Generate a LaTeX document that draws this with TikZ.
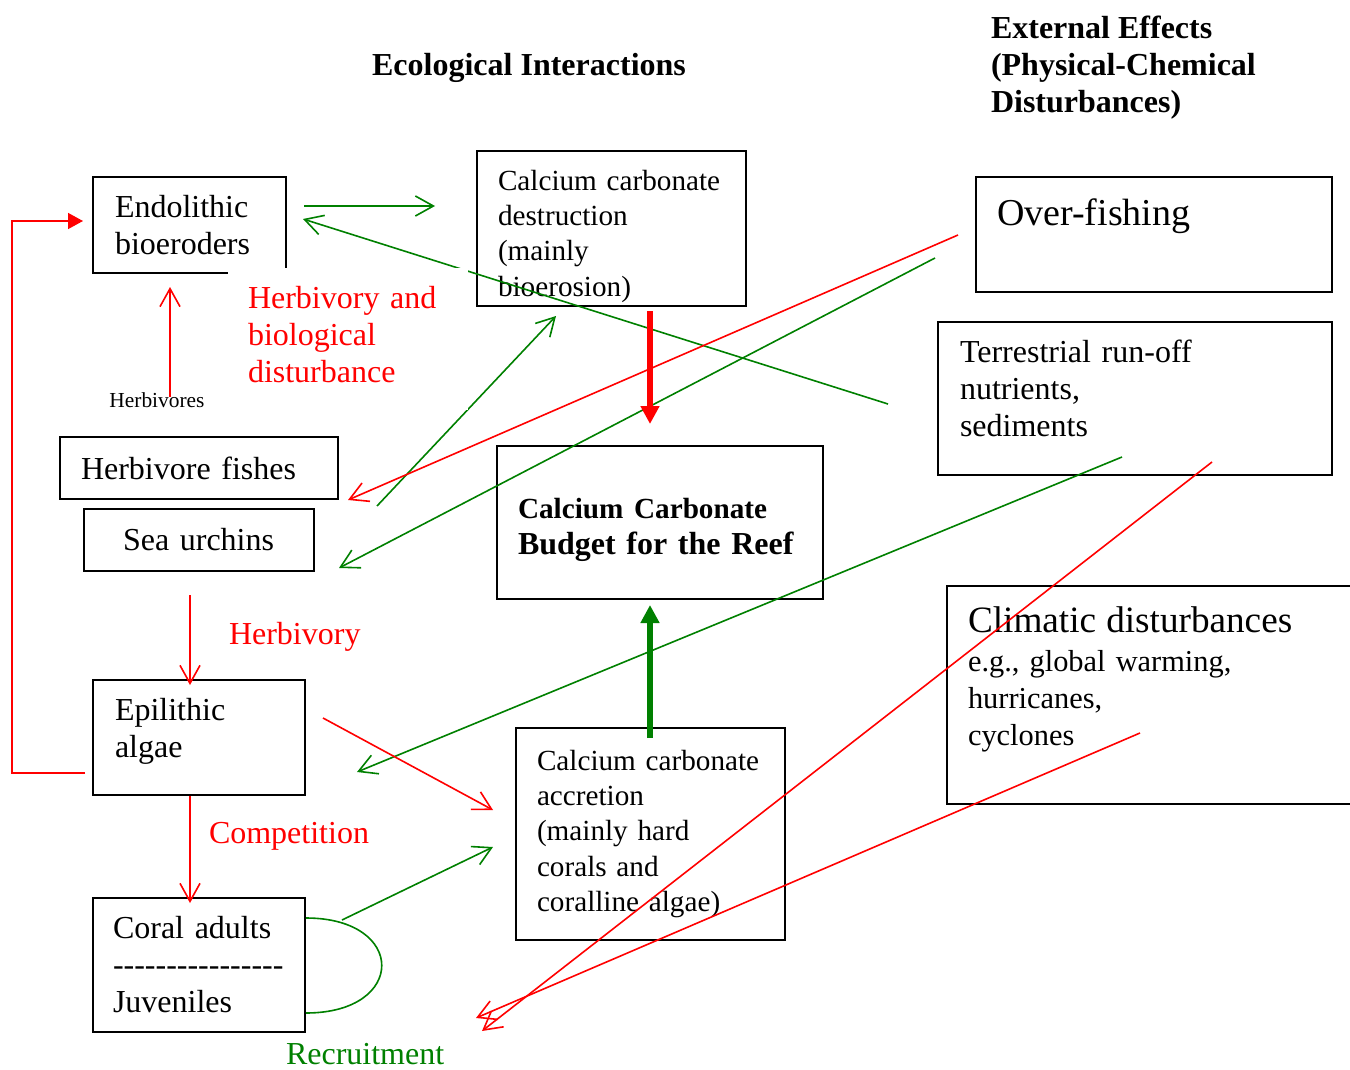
\documentclass[tikz,border=0pt]{standalone}
\usepackage{fontspec}
\setmainfont{Liberation Serif}
\usepackage{tikz}
\usetikzlibrary{positioning,calc,arrows.meta}
\definecolor{ink}{HTML}{000000}
\definecolor{harm}{HTML}{FF0000}
\definecolor{gain}{HTML}{008000}
\tikzset{
  box/.style       = {draw=ink, line width=1pt, inner xsep=2pt, inner ysep=2pt, align=left, font=\fontsize{16}{18.5}\selectfont},
  boxsm/.style     = {box, font=\fontsize{14.6}{17.6}\selectfont},
  headline/.style  = {font=\fontsize{16}{18.5}\selectfont\bfseries, align=left, inner sep=0pt, outer sep=0pt},
  lab/.style       = {font=\fontsize{16}{18.5}\selectfont, text=harm, anchor=west, align=left, inner sep=0pt, outer sep=0pt},
  labsm/.style     = {font=\fontsize{10.7}{12}\selectfont, inner sep=0pt, outer sep=0pt},
  link/.style      = {line width=0.8pt, -{Straight Barb[length=9pt,width=10pt]}},
  redlink/.style   = {link, draw=harm},
  greenlink/.style = {link, draw=gain},
  flow/.style      = {line width=3pt, -{Triangle[length=9pt,width=9pt]}},
}
% struts that push a box's text up or down
\newcommand{\pushdown}[1]{\rule{0pt}{#1}}
\newcommand{\pushup}[1]{\rule[-#1]{0pt}{0pt}}

\begin{document}
\begin{tikzpicture}[x=0.5pt,y=-0.5pt]
\useasboundingbox (0,0) rectangle (1350,1070);

% ---- headings -----------------------------------------------------------
\node[headline] (ecol) at (529,68) {Ecological Interactions};
\node[headline, anchor=west] (extern) at (991,68) {External Effects\\(Physical-Chemical\\Disturbances)};

% ---- ecological boxes ---------------------------------------------------
\node[box, minimum width=96.5pt, minimum height=48pt, text width=74.5pt] (endo) at (189.5,225) {Endolithic\\bioeroders};
\node[boxsm, inner ysep=0pt, minimum width=134.5pt, minimum height=77.5pt, text width=113.5pt] (destr) at (611.5,228.5)
  {\pushdown{18pt}Calcium carbonate\\destruction\\(mainly\\bioerosion)};
\node[box, font=\fontsize{16}{18}\selectfont\bfseries, minimum width=163pt, minimum height=76.5pt, text width=142pt] (budget) at (660,522.5)
  {\pushdown{18pt}{\fontsize{14.6}{18}\selectfont Calcium Carbonate}\\Budget for the Reef};
\node[box, minimum width=139pt, minimum height=31pt, text width=118pt] (fish) at (199,468) {Herbivore fishes};
\node[box, minimum width=115pt, minimum height=31pt, text width=76pt] (urch) at (199,540) {Sea urchins};
\node[box, minimum width=106pt, minimum height=57.5pt, text width=84pt] (epi) at (199,737.5) {Epilithic\\algae\pushup{9.5pt}};
\node[box, minimum width=106pt, minimum height=67pt, text width=86pt] (coral) at (199,965)
  {Coral adults\\-{}-{}-{}-{}-{}-{}-{}-{}-{}-{}-{}-{}-{}-{}-{}-{}\\Juveniles};
\node[boxsm, minimum width=134.5pt, minimum height=106pt, text width=113.5pt] (accr) at (650.5,834)
  {Calcium carbonate\\accretion\\(mainly hard\\corals and\\coralline algae)};

% ---- external boxes -----------------------------------------------------
\node[box, font=\fontsize{19}{22}\selectfont, minimum width=178pt, minimum height=57.5pt, text width=157pt] (overf) at (1154,234.5)
  {Over-fishing\\\mbox{}};
\node[box, minimum width=197pt, minimum height=76.5pt, text width=175pt] (terr) at (1135,398.5)
  {Terrestrial run-off\\nutrients,\\sediments\pushup{10pt}};
% runs off the right edge of the page: only three sides drawn
\node[box, draw=none, font=\fontsize{15.2}{18.5}\selectfont, minimum width=216pt, minimum height=108pt, text width=196pt] (clim) at (1164,695)
  {{\fontsize{18.6}{20}\selectfont Climatic disturbances}\\[1pt]e.g., global warming,\\hurricanes,\\cyclones\\\mbox{}};
\coordinate (pageR) at (1350,0);
\draw[ink, line width=1pt] (clim.north -| pageR) -- (clim.north west) -- (clim.south west) -- (clim.south -| pageR);

% ---- small labels -------------------------------------------------------
\node[labsm] (herbivores) at (157,400) {Herbivores};
\node[lab] (herbivory) at (229,637) {Herbivory};
\node[lab] (competition) at (209,836) {Competition};
\node[lab, text=gain] (recruit) at (286,1054) {Recruitment};

% ---- free ends of the connectors ----------------------------------------
\coordinate (endoOut)   at (304,206);
\coordinate (destrIn)   at (435,206);
\coordinate (terrOut)   at (888,404);
\coordinate (endoIn)    at (303,219);
\coordinate (fishOut)   at (377,506);
\coordinate (destrIn2)  at (556,316);
\coordinate (overfOut)  at (958,235);
\coordinate (fishIn)    at (348,500);
\coordinate (overfOut2) at (935,258);
\coordinate (urchIn)    at (339,568);
\coordinate (terrOut2)  at (1122,457);
\coordinate (epiIn)     at (357,772);
\coordinate (terrOut3)  at (1212,462);
\coordinate (recA)      at (482,1031);
\coordinate (climOut)   at (1140,733);
\coordinate (recB)      at (476,1018);
\coordinate (epiOut)    at (323,718);
\coordinate (accrIn)    at (493,810);
\coordinate (coralOut)  at (342,920);
\coordinate (accrIn2)   at (493,847);
\coordinate (destrOut)  at (650,311);
\coordinate (budgetIn)  at (650,424);
\coordinate (accrOut)   at (650,738);
\coordinate (budgetIn2) at (650,605);
\coordinate (herbUp)    at (170,397);
\coordinate (endoIn2)   at (170,287);
\coordinate (urchOut)   at (190,595);
\coordinate (epiBack)   at (85,773);
\coordinate (rail)      at (12,500);
\coordinate (endoIn3)   at (83,221);

% ---- green: gains -------------------------------------------------------
\foreach \a/\b in {endoOut/destrIn, terrOut/endoIn, fishOut/destrIn2, overfOut2/urchIn, terrOut2/epiIn, coralOut/accrIn2}
  \draw[greenlink] (\a) -- (\b);

% ---- red: losses --------------------------------------------------------
\foreach \a/\b in {overfOut/fishIn, terrOut3/recA, climOut/recB, epiOut/accrIn, herbUp/endoIn2}
  \draw[redlink] (\a) -- (\b);
\draw[redlink, shorten >=-3pt] (urchOut) -- (urchOut |- epi.north);
\draw[redlink, shorten >=-3pt] (epi.south -| urchOut) -- (coral.north -| urchOut);
\draw[harm, line width=0.8pt, -{Triangle[length=7.5pt,width=8pt]}] (epiBack) -| (rail) |- (endoIn3);

% recruitment loop
\draw[gain, line width=0.8pt] ($(coral.east)+(0,-47)$) .. controls +(101,0) and +(101,0) .. ($(coral.east)+(0,48)$);

% ---- into the budget ----------------------------------------------------
\draw[flow, harm] (destrOut) -- (budgetIn);
\draw[flow, gain] (accrOut) -- (budgetIn2);

% label sits on a white patch, over the lines
\node[lab, fill=white, anchor=north west, text width=100pt, inner xsep=10pt, minimum height=71pt] (herbdist) at (228,268)
  {Herbivory and\\biological\\disturbance\pushup{5pt}};

\end{tikzpicture}
\end{document}
